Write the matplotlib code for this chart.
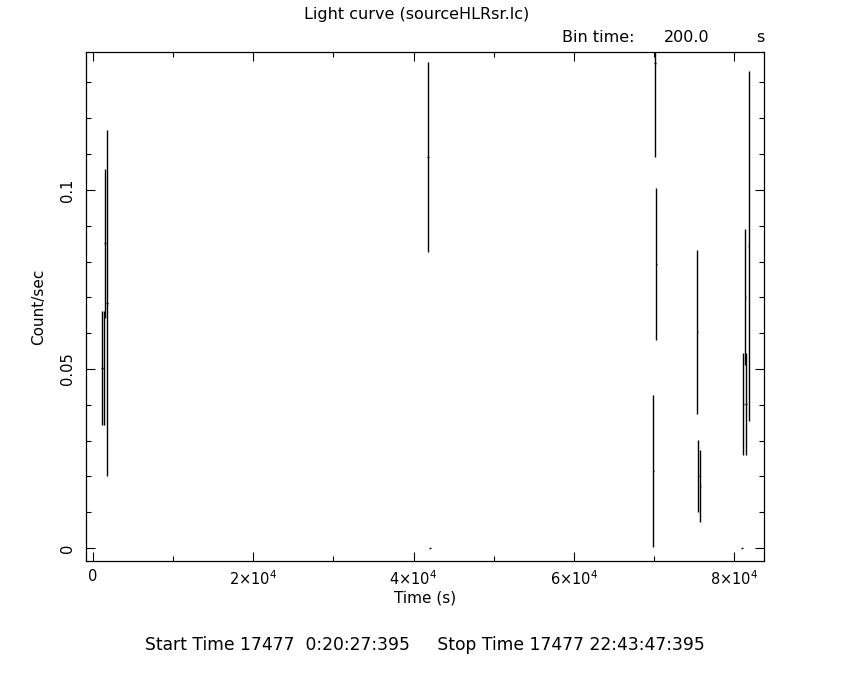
import matplotlib
matplotlib.use("Agg")
import matplotlib.pyplot as plt
from matplotlib.ticker import MultipleLocator, FixedLocator

# Data (time in s, count rate, 1-sigma error)
time = [1160, 1330, 1530, 1780, 41780, 42030, 69940, 70160, 70320,
        75430, 75550, 75800, 80970, 81160, 81410, 81530, 81830]
rate = [0.0503, 0.0503, 0.0851, 0.0684, 0.1093, 0.0, 0.0215, 0.1354, 0.0792,
        0.0603, 0.0201, 0.0173, 0.0, 0.0402, 0.0700, 0.0402, 0.0844]
rate_err = [0.0159, 0.0159, 0.0208, 0.0484, 0.0265, 0.0, 0.0213, 0.0261, 0.0212,
            0.0228, 0.0101, 0.0100, 0.0, 0.0142, 0.0190, 0.0142, 0.0489]
half_bin = 100.0

xticks = [0, 20000, 40000, 60000, 80000]
xtick_labels = ['0', r'$2{\times}10^{4}$', r'$4{\times}10^{4}$', r'$6{\times}10^{4}$', r'$8{\times}10^{4}$']
yticks = [0, 0.05, 0.1]
ytick_labels = ['0', '0.05', '0.1']

title = 'Light curve (sourceHLRsr.lc)'
bottom_text = 'Start Time 17477  0:20:27:395     Stop Time 17477 22:43:47:395'

plt.rcParams['font.family'] = ['DejaVu Sans']
fig = plt.figure(figsize=(8.5, 6.8), dpi=100)
ax = fig.add_axes([86/850, 1-561/680, (764-86)/850, (561-52)/680])

ax.errorbar(time, rate, yerr=rate_err, xerr=half_bin, fmt='none',
            ecolor='black', elinewidth=1.0, capsize=0)

ax.set_xlim(-870, 83740)
ax.set_ylim(-0.0036, 0.1385)

ax.xaxis.set_major_locator(FixedLocator(xticks))
ax.set_xticklabels(xtick_labels)
ax.xaxis.set_minor_locator(MultipleLocator(10000))
ax.yaxis.set_major_locator(FixedLocator(yticks))
ax.set_yticklabels(ytick_labels, rotation=90, va='center')
ax.yaxis.set_minor_locator(MultipleLocator(0.01))

ax.tick_params(which='both', direction='in', top=True, right=True,
               width=0.8, colors='black', labelsize=10.5)
ax.tick_params(which='major', length=6.5)
ax.tick_params(which='minor', length=3.6)
ax.tick_params(axis='y', pad=8)
ax.tick_params(axis='x', pad=6)
for s in ax.spines.values():
    s.set_linewidth(0.9)

ax.set_xlabel('Time (s)', fontsize=11, labelpad=2)
ax.set_ylabel('Count/sec', fontsize=11, labelpad=10)

fig.text(417/850, 1-15/680, title, ha='center', va='center', fontsize=11.5)
fig.text(562/850, 1-38/680, 'Bin time:', ha='left', va='center', fontsize=11.5)
fig.text(687/850, 1-38/680, '200.0', ha='center', va='center', fontsize=11.5)
fig.text(760/850, 1-38/680, 's', ha='center', va='center', fontsize=11.5)
fig.text(425/850, 1-645/680, bottom_text, ha='center', va='center', fontsize=12.3)

fig.savefig('out.png', dpi=100, facecolor='white')
